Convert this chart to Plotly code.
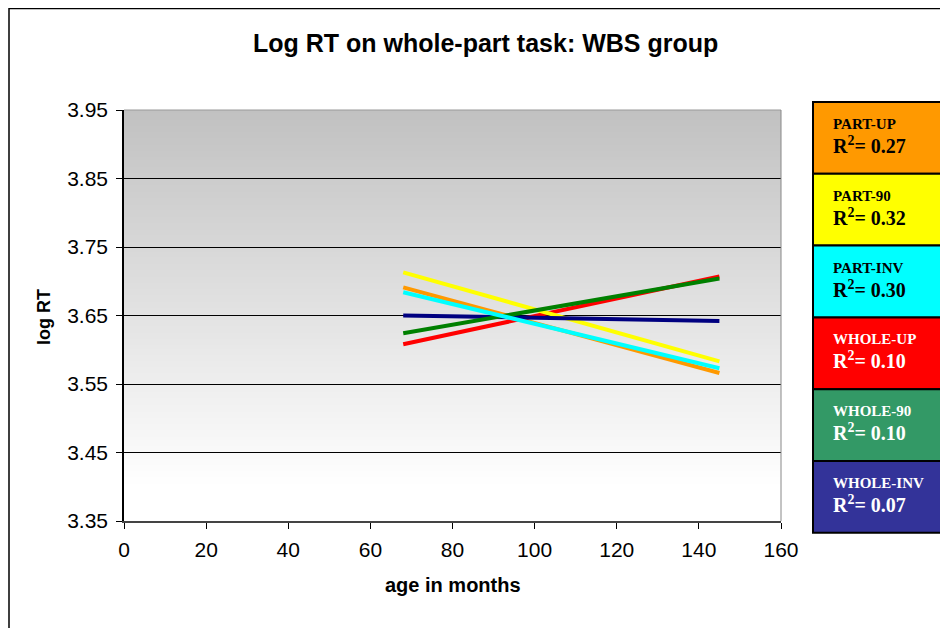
import plotly.graph_objects as go

# ---- data ----
age_months = [68, 145]
series_names = ["PART-UP", "PART-90", "PART-INV", "WHOLE-UP", "WHOLE-90", "WHOLE-INV"]
r_squared = ["0.27", "0.32", "0.30", "0.10", "0.10", "0.07"]
part_up = [3.691, 3.566]
part_90 = [3.713, 3.583]
part_inv = [3.684, 3.573]
whole_up = [3.608, 3.707]
whole_90 = [3.624, 3.704]
whole_inv = [3.650, 3.642]
x_ticks = [0, 20, 40, 60, 80, 100, 120, 140, 160]
y_ticks = [3.35, 3.45, 3.55, 3.65, 3.75, 3.85, 3.95]

series_values = [part_up, part_90, part_inv, whole_up, whole_90, whole_inv]
line_colors = ["#FF9900", "#FFFF00", "#00FFFF", "#FF0000", "#008000", "#000080"]
box_colors = ["#FF9900", "#FFFF00", "#00FFFF", "#FF0000", "#339966", "#333399"]
text_colors = ["black", "black", "black", "white", "white", "white"]

OFF = 8  # page body offset
W, H = 948 - OFF, 628 - OFF
# plot area in screenshot pixel coordinates
SL, SR, ST, SB = 124, 781, 110, 521
L, R, T, B = SL - OFF, SR - OFF, ST - OFF, SB - OFF

def px(x):
    return (x - SL) / (SR - SL)

def py(y):
    return (SB - y) / (SB - ST)

fig = go.Figure()
draw_order = [0, 3, 1, 5, 4, 2]
for i in draw_order:
    fig.add_trace(go.Scatter(
        x=age_months, y=series_values[i], mode="lines", name=series_names[i],
        line=dict(color=line_colors[i], width=4), showlegend=False, hoverinfo="skip"))

shapes = []
# gradient background (overlapping bands to avoid seams)
n = 120
y0, y1 = 3.40, 3.95
for k in range(n):
    a = y0 + (y1 - y0) * k / n
    t = (k + 0.5) / n
    v = int(round(255 - t * (255 - 193)))
    shapes.append(dict(type="rect", xref="x", yref="y", x0=0, x1=160, y0=a, y1=y1,
                       fillcolor=f"rgb({v},{v},{v})", line=dict(width=0), layer="below"))
# plot top and right borders
shapes.append(dict(type="line", xref="paper", yref="paper", x0=0, x1=1, y0=1, y1=1,
                   line=dict(color="#999999", width=1)))
shapes.append(dict(type="line", xref="paper", yref="paper", x0=1, x1=1, y0=0, y1=1,
                   line=dict(color="#888888", width=1)))
# outer frame
shapes.append(dict(type="rect", xref="paper", yref="paper", x0=px(9), x1=px(970),
                   y0=py(660), y1=py(8.5), line=dict(color="black", width=1.5), layer="below"))

annotations = []
box_top = 102
box_h = 71.8
for i in range(6):
    top = box_top + i * box_h
    shapes.append(dict(type="rect", xref="paper", yref="paper", x0=px(813), x1=px(970),
                       y0=py(top + box_h), y1=py(top), fillcolor=box_colors[i],
                       line=dict(color="black", width=2)))
    annotations.append(dict(xref="paper", yref="paper", x=px(831), y=py(top + 22),
                            xanchor="left", yanchor="middle", showarrow=False,
                            text=f"<b>{series_names[i]}</b>",
                            font=dict(family="Liberation Serif", size=15, color=text_colors[i])))
    annotations.append(dict(xref="paper", yref="paper", x=px(831), y=py(top + 43),
                            xanchor="left", yanchor="middle", showarrow=False,
                            text=f"<b>R<sup>2</sup>= {r_squared[i]}</b>",
                            font=dict(family="Liberation Serif", size=20, color=text_colors[i])))

annotations.append(dict(xref="paper", yref="paper", x=px(485), y=py(43), xanchor="center",
                        yanchor="middle", showarrow=False,
                        text="<b>Log RT on whole-part task: WBS group</b>",
                        font=dict(family="Liberation Sans", size=25, color="black")))
annotations.append(dict(xref="paper", yref="paper", x=px(453), y=py(585), xanchor="center",
                        yanchor="middle", showarrow=False, text="<b>age in months</b>",
                        font=dict(family="Liberation Sans", size=20, color="black")))
annotations.append(dict(xref="paper", yref="paper", x=px(44), y=py(317), xanchor="center",
                        yanchor="middle", showarrow=False, text="<b>log RT</b>", textangle=-90,
                        font=dict(family="Liberation Sans", size=18, color="black")))

fig.update_layout(
    width=W, height=H,
    margin=dict(l=L, r=W - R, t=T, b=H - B, pad=0),
    paper_bgcolor="white", plot_bgcolor="white",
    shapes=shapes, annotations=annotations,
    font=dict(family="Liberation Sans", size=21, color="black"),
    xaxis=dict(range=[0, 160], tickvals=x_ticks, ticktext=[str(v) for v in x_ticks],
               showgrid=False, zeroline=False, showline=True, linecolor="#444444", linewidth=2,
               ticks="outside", ticklen=6, tickcolor="black", tickfont=dict(size=21),
               ticklabelstandoff=3),
    yaxis=dict(range=[3.35, 3.95], tickvals=y_ticks, ticktext=[f"{v:.2f}" for v in y_ticks],
               showgrid=True, gridcolor="black", gridwidth=1, zeroline=False,
               showline=True, linecolor="black", linewidth=1.5,
               ticks="outside", ticklen=6, tickcolor="black", tickfont=dict(size=21),
               ticklabelstandoff=4),
)

fig.write_html("out.html")
